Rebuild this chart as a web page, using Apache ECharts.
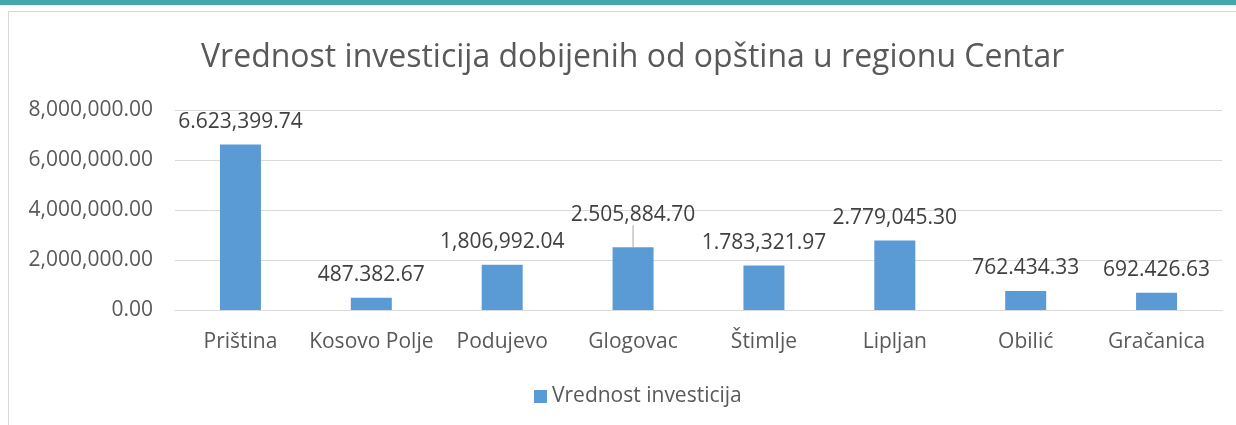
<!DOCTYPE html>
<html>
<head>
<meta charset="utf-8">
<script src="https://cdn.jsdelivr.net/npm/echarts@6/dist/echarts.min.js"></script>
<style>
* { margin: 0; padding: 0; }
body { background: #fff; }
</style>
</head>
<body>
<!--chart container-->
<div id="main" style="width:1236px;height:425px;"></div>
<script>
var categories = ['Priština', 'Kosovo Polje', 'Podujevo', 'Glogovac', 'Štimlje', 'Lipljan', 'Obilić', 'Gračanica'];
var values = [6623399.74, 487382.67, 1806992.04, 2505884.70, 1783321.97, 2779045.30, 762434.33, 692426.63];
// labels as written in the source (mixed separators)
var valueLabels = ['6.623,399.74', '487.382.67', '1,806,992.04', '2.505,884.70', '1.783,321.97', '2.779,045.30', '762.434.33', '692.426.63'];
var yTicks = [0, 2000000, 4000000, 6000000, 8000000];

var fontName = '"Open Sans", sans-serif';
var chart = echarts.init(document.getElementById('main'));

var barData = values.map(function (v, i) {
  var item = { value: v };
  if (i === 3) {
    item.labelLine = { show: true, lineStyle: { color: '#a6a6a6', width: 1 } };
  }
  return item;
});

chart.setOption({
  animation: false,
  graphic: [
    { type: 'rect', shape: { x: 0, y: 0, width: 1236, height: 5 }, style: { fill: '#45a6ab' } },
    { type: 'rect', shape: { x: 8.5, y: 11.5, width: 1300, height: 500 }, style: { fill: 'none', stroke: '#d9d9d9', lineWidth: 1 } }
  ],
  title: {
    text: 'Vrednost investicija dobijenih od opština u regionu Centar',
    left: 196,
    top: 37,
    textStyle: { fontFamily: fontName, fontSize: 32, fontWeight: 'normal', color: '#595959' }
  },
  legend: {
    top: 381,
    left: 529,
    itemWidth: 13,
    itemHeight: 13,
    itemGap: 5,
    icon: 'rect',
    textStyle: { fontFamily: fontName, fontSize: 21, color: '#595959' },
    data: ['Vrednost investicija']
  },
  grid: { left: 175, right: 14, top: 110, bottom: 115 },
  xAxis: {
    type: 'category',
    data: categories,
    axisLine: { lineStyle: { color: '#d9d9d9' } },
    axisTick: { show: false },
    axisLabel: { fontFamily: fontName, fontSize: 21, color: '#595959', margin: 22, interval: 0 }
  },
  yAxis: {
    type: 'value',
    min: yTicks[0],
    max: yTicks[yTicks.length - 1],
    interval: 2000000,
    axisLine: { show: false },
    axisTick: { show: false },
    splitLine: { lineStyle: { color: '#d9d9d9' } },
    axisLabel: {
      fontFamily: fontName, fontSize: 21, color: '#595959', margin: 22,
      formatter: function (v) {
        return v.toLocaleString('en-US', { minimumFractionDigits: 2, maximumFractionDigits: 2 });
      }
    }
  },
  series: [{
    name: 'Vrednost investicija',
    type: 'bar',
    data: barData,
    barWidth: 41,
    itemStyle: { color: '#5b9bd5' },
    label: {
      show: true,
      position: 'top',
      distance: 12,
      fontFamily: fontName,
      fontSize: 21,
      color: '#404040',
      formatter: function (p) { return valueLabels[p.dataIndex]; }
    },
    labelLayout: function (p) {
      if (p.dataIndex === 3) return { dy: -10 };
      return {};
    }
  }]
});
</script>
</body>
</html>
